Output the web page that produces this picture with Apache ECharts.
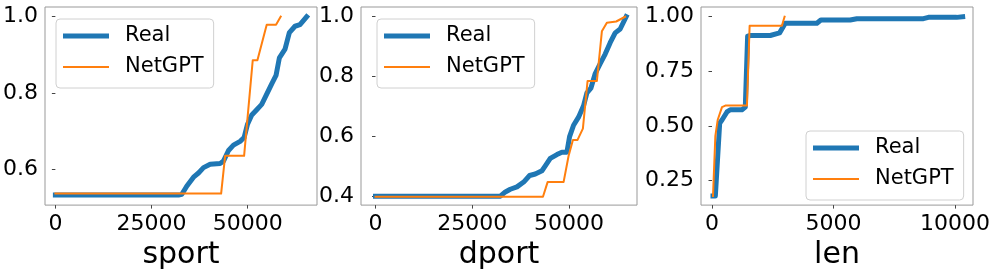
<!DOCTYPE html>
<html><head><meta charset="utf-8">
<script src="https://cdn.jsdelivr.net/npm/echarts@6/dist/echarts.min.js"></script>
<style>html,body{margin:0;padding:0;background:#fff}#c{width:996px;height:275px}</style>
</head><body><div id="c"></div>
<script>
// ---- data ----
const sportRealX = [0, 32000, 32870, 34180, 35900, 37200, 38500, 40230, 42820, 43690, 45000, 46280, 48010, 49050, 49910, 51040, 52340, 53630, 54930, 56230, 57350, 58220, 59690, 60810, 62280, 63580, 65310];
const sportRealY = [0.532, 0.532, 0.534, 0.556, 0.579, 0.590, 0.604, 0.613, 0.615, 0.621, 0.649, 0.663, 0.673, 0.683, 0.717, 0.742, 0.756, 0.770, 0.797, 0.824, 0.846, 0.892, 0.915, 0.958, 0.975, 0.979, 1.0];
const sportGptX = [0, 43080, 44120, 49050, 51300, 52510, 54930, 57350, 58560];
const sportGptY = [0.536, 0.536, 0.635, 0.635, 0.886, 0.886, 0.979, 0.979, 1.0];

const dportRealX = [0, 32270, 33560, 34850, 36570, 38300, 39840, 41310, 43030, 43890, 45180, 46900, 48190, 49480, 50170, 51200, 52490, 53780, 54650, 55680, 56800, 58090, 59380, 60670, 61960, 63250, 64800];
const dportRealY = [0.400, 0.400, 0.414, 0.423, 0.431, 0.447, 0.469, 0.474, 0.485, 0.501, 0.526, 0.539, 0.547, 0.547, 0.599, 0.637, 0.664, 0.702, 0.745, 0.761, 0.810, 0.843, 0.875, 0.913, 0.946, 0.959, 1.0];
const dportGptX = [0, 43290, 44490, 48620, 49910, 51030, 52230, 53610, 54820, 57230, 58520, 59810, 62220, 64540];
const dportGptY = [0.398, 0.398, 0.447, 0.447, 0.534, 0.588, 0.588, 0.626, 0.785, 0.785, 0.951, 0.980, 0.984, 1.0];

const lenRealX = [40, 137, 315, 411, 616, 753, 1233, 1370, 1466, 1575, 2397, 2781, 3014, 4315, 4479, 5685, 5959, 8699, 8904, 10068, 10315];
const lenRealY = [0.179, 0.179, 0.512, 0.527, 0.564, 0.574, 0.574, 0.586, 0.911, 0.914, 0.914, 0.926, 0.970, 0.970, 0.985, 0.985, 0.991, 0.991, 0.997, 0.997, 1.0];
const lenGptX = [41, 137, 233, 315, 411, 548, 1438, 1548, 2877, 2986];
const lenGptY = [0.179, 0.453, 0.527, 0.534, 0.586, 0.593, 0.593, 0.959, 0.959, 1.0];

const portXTicks = [0, 25000, 50000];
const lenXTicks = [0, 5000, 10000];
const sportYTicks = [0.6, 0.8, 1.0];
const dportYTicks = [0.4, 0.6, 0.8, 1.0];
const lenYTicks = [0.25, 0.5, 0.75, 1.0];

const axisNames = ['sport', 'dport', 'len'];
const seriesNames = ['Real', 'NetGPT'];

// ---- chart ----
const FONT = 'DejaVu Sans';
const BLUE = '#1f77b4', ORANGE = '#ff7f0e';
const zip = (xs, ys) => xs.map((x, i) => [x, ys[i]]);

const grids = [
  {left: 45, top: 7, width: 272, height: 204},
  {left: 361, top: 7, width: 276, height: 204},
  {left: 701, top: 7, width: 272, height: 204}
].map(g => Object.assign(g, {show: true, borderColor: '#999', borderWidth: 1, backgroundColor: 'transparent'}));

const xRanges = [[-2700, 68000], [-3750, 67600], [-453, 10740]];
const yRanges = [[0.5057, 1.0255], [0.370, 1.0325], [0.1375, 1.0445]];
const xTicks = [portXTicks, portXTicks, lenXTicks];
const yTicks = [sportYTicks, dportYTicks, lenYTicks];
const yDec = [1, 1, 2];

const xAxis = [0, 1, 2].map(i => ({
  type: 'value', gridIndex: i, min: xRanges[i][0], max: xRanges[i][1],
  name: axisNames[i], nameLocation: 'middle', nameGap: 31,
  nameTextStyle: {fontFamily: FONT, fontSize: 30, color: '#000'},
  axisLine: {show: false},
  splitLine: {show: false},
  axisTick: {show: true, length: 3.5, lineStyle: {color: '#444', width: 1}, customValues: xTicks[i]},
  axisLabel: {show: true, margin: 8, fontFamily: FONT, fontSize: 22, color: '#000', customValues: xTicks[i], formatter: v => String(v)}
}));
const yAxis = [0, 1, 2].map(i => ({
  type: 'value', gridIndex: i, min: yRanges[i][0], max: yRanges[i][1],
  axisLine: {show: false},
  splitLine: {show: false},
  axisTick: {show: true, length: 3.5, lineStyle: {color: '#444', width: 1}, customValues: yTicks[i]},
  axisLabel: {show: true, margin: 7, fontFamily: FONT, fontSize: 22, color: '#000', customValues: yTicks[i], formatter: v => v.toFixed(yDec[i])}
}));

const realData = [zip(sportRealX, sportRealY), zip(dportRealX, dportRealY), zip(lenRealX, lenRealY)];
const gptData = [zip(sportGptX, sportGptY), zip(dportGptX, dportGptY), zip(lenGptX, lenGptY)];
const series = [];
for (let i = 0; i < 3; i++) {
  series.push({name: seriesNames[0], type: 'line', xAxisIndex: i, yAxisIndex: i, data: realData[i], showSymbol: false, symbol: 'none',
    color: BLUE, lineStyle: {width: 5, color: BLUE, cap: 'square', join: 'round'}, z: 2});
  series.push({name: seriesNames[1], type: 'line', xAxisIndex: i, yAxisIndex: i, data: gptData[i], showSymbol: false, symbol: 'none',
    color: ORANGE, lineStyle: {width: 2, color: ORANGE, cap: 'square', join: 'round'}, z: 3});
}

const legendPos = [[56, 19], [377, 19], [806, 131]];
const legend = legendPos.map(p => ({
  left: p[0], top: p[1], orient: 'vertical',
  itemWidth: 46, itemHeight: 14, itemGap: 7,
  padding: [5, 10, 9, 7],
  borderColor: '#d0d0d0', borderWidth: 1, borderRadius: 4, backgroundColor: 'rgba(255,255,255,0.8)',
  selectedMode: false,
  textStyle: {fontFamily: FONT, fontSize: 21, color: '#000', lineHeight: 24, padding: [0, 0, 0, 11]},
  data: [
    {name: seriesNames[0], icon: 'path://M0,0L46,0L46,5L0,5Z', itemStyle: {color: BLUE, borderWidth: 0}},
    {name: seriesNames[1], icon: 'path://M0,0L46,0L46,2L0,2Z', itemStyle: {color: ORANGE, borderWidth: 0}}
  ]
}));

const chart = echarts.init(document.getElementById('c'), null, {renderer: 'canvas'});
chart.setOption({animation: false, backgroundColor: '#fff', grid: grids, xAxis, yAxis, series, legend});
</script></body></html>
